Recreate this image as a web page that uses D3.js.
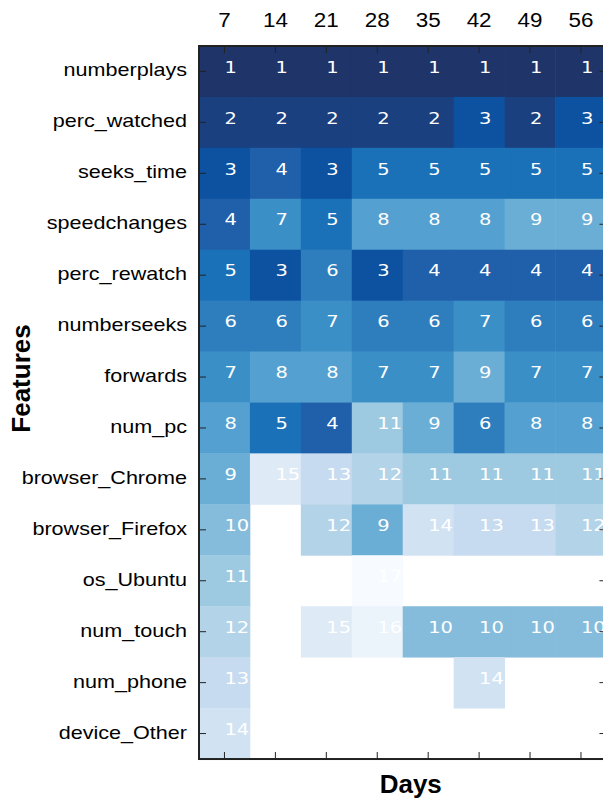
<!DOCTYPE html>
<html>
<head>
<meta charset="utf-8">
<script src="https://cdn.jsdelivr.net/npm/d3@7"></script>
<style>
  html, body { margin: 0; padding: 0; background: #fff; overflow: hidden; }
  svg { display: block; }
</style>
</head>
<body>
<svg id="chart" width="603" height="798"></svg>
<script>
// Observation windows (days) along the top axis
const days = [7, 14, 21, 28, 35, 42, 49, 56];

// Feature names, top to bottom
const features = [
  "numberplays", "perc_watched", "seeks_time", "speedchanges", "perc_rewatch",
  "numberseeks", "forwards", "num_pc", "browser_Chrome", "browser_Firefox",
  "os_Ubuntu", "num_touch", "num_phone", "device_Other"
];

// Importance rank of each feature per window (null = not ranked)
const ranks = [
  [1, 1, 1, 1, 1, 1, 1, 1],
  [2, 2, 2, 2, 2, 3, 2, 3],
  [3, 4, 3, 5, 5, 5, 5, 5],
  [4, 7, 5, 8, 8, 8, 9, 9],
  [5, 3, 6, 3, 4, 4, 4, 4],
  [6, 6, 7, 6, 6, 7, 6, 6],
  [7, 8, 8, 7, 7, 9, 7, 7],
  [8, 5, 4, 11, 9, 6, 8, 8],
  [9, 15, 13, 12, 11, 11, 11, 11],
  [10, null, 12, 9, 14, 13, 13, 12],
  [11, null, null, 17, null, null, null, null],
  [12, null, 15, 16, 10, 10, 10, 10],
  [13, null, null, null, null, 14, null, null],
  [14, null, null, null, null, null, null, null]
];

// Blues palette, rank 1 (darkest) to rank 17 (lightest)
const rankColors = [
  "#1f3468", "#1a4080", "#0d52a0", "#2060ab", "#1b71b8", "#2e7ebe",
  "#3b8fc7", "#54a0d0", "#6aaed6", "#85bcdc", "#9dcae1", "#b3d3e8",
  "#c6dbef", "#d1e3f3", "#deebf7", "#ebf3fb", "#f7fbff"
];

const svg = d3.select("#chart");

const plotLeft = 199, plotTop = 46, cellSize = 50.93;
const plotRight = plotLeft + cellSize * days.length;
const plotBottom = plotTop + cellSize * features.length;

const x = d3.scaleBand().domain(days).range([plotLeft, plotRight]).padding(0);
const y = d3.scaleBand().domain(features).range([plotTop, plotBottom]).padding(0);
const color = d3.scaleOrdinal().domain(d3.range(1, rankColors.length + 1)).range(rankColors);

const cells = features.flatMap((f, i) =>
  days.map((d, j) => ({ feature: f, day: d, rank: ranks[i][j] }))
).filter(c => c.rank != null);

const bw = x.bandwidth();

// Heatmap cells
svg.append("g")
  .selectAll("rect")
  .data(cells)
  .join("rect")
  .attr("x", d => x(d.day))
  .attr("y", d => y(d.feature))
  .attr("width", bw + 0.4)
  .attr("height", y.bandwidth() + 0.4)
  .attr("fill", d => color(d.rank));

// Rank numbers, left-aligned at cell centre
svg.append("g")
  .selectAll("g")
  .data(cells)
  .join("g")
  .attr("transform", d => `translate(${x(d.day) + bw / 2},${y(d.feature) + y.bandwidth() / 2 + 1.2}) scale(1.18,1)`)
  .append("text")
  .attr("x", 0)
  .attr("y", 0)
  .attr("font-family", "'DejaVu Sans', sans-serif")
  .attr("font-size", 16.5)
  .attr("fill", "#ffffff")
  .text(d => d.rank);

const tickColor = "#222222";
const sansFont = "'Liberation Sans', Arial, Helvetica, sans-serif";

function styleAxis(g) {
  g.select(".domain").remove();
  g.selectAll(".tick line").attr("stroke", tickColor).attr("stroke-width", 1);
}

// Top axis with day labels, ticks pointing inward
const topAxis = svg.append("g")
  .attr("transform", `translate(0,${plotTop})`)
  .call(d3.axisTop(x).tickSize(-7).tickSizeOuter(0).tickPadding(19));
styleAxis(topAxis);
topAxis.selectAll(".tick text")
  .attr("font-family", sansFont)
  .attr("font-size", 19.5)
  .attr("fill", "#000")
  .attr("transform", "scale(1.15,1)");

// Bottom axis: ticks only
const bottomAxis = svg.append("g")
  .attr("transform", `translate(0,${plotBottom})`)
  .call(d3.axisBottom(x).tickSize(-7).tickSizeOuter(0).tickFormat(""));
styleAxis(bottomAxis);

// Left axis with feature names
const leftAxis = svg.append("g")
  .attr("transform", `translate(${plotLeft},0)`)
  .call(d3.axisLeft(y).tickSize(-7).tickSizeOuter(0).tickPadding(0));
styleAxis(leftAxis);
leftAxis.selectAll(".tick text")
  .attr("x", 0)
  .attr("dy", 5)
  .attr("font-family", sansFont)
  .attr("font-size", 18.6)
  .attr("fill", "#000")
  .attr("text-anchor", "end")
  .attr("transform", "translate(-12,0) scale(1.16,1)");

// Right axis: ticks only
const rightAxis = svg.append("g")
  .attr("transform", `translate(${plotRight},0)`)
  .call(d3.axisRight(y).tickSize(-7).tickSizeOuter(0).tickFormat(""));
styleAxis(rightAxis);

// Frame around the plot
svg.append("rect")
  .attr("x", plotLeft)
  .attr("y", plotTop)
  .attr("width", plotRight - plotLeft)
  .attr("height", plotBottom - plotTop)
  .attr("fill", "none")
  .attr("stroke", tickColor)
  .attr("stroke-width", 2);

// Axis titles
svg.append("text")
  .attr("x", (plotLeft + plotRight) / 2 + 8)
  .attr("y", 793)
  .attr("text-anchor", "middle")
  .attr("font-family", sansFont)
  .attr("font-weight", "bold")
  .attr("font-size", 26)
  .attr("fill", "#000")
  .text("Days");

svg.append("text")
  .attr("transform", `translate(30,${(plotTop + plotBottom) / 2 - 24}) rotate(-90)`)
  .attr("text-anchor", "middle")
  .attr("font-family", sansFont)
  .attr("font-weight", "bold")
  .attr("font-size", 26)
  .attr("fill", "#000")
  .text("Features");
</script>
</body>
</html>
